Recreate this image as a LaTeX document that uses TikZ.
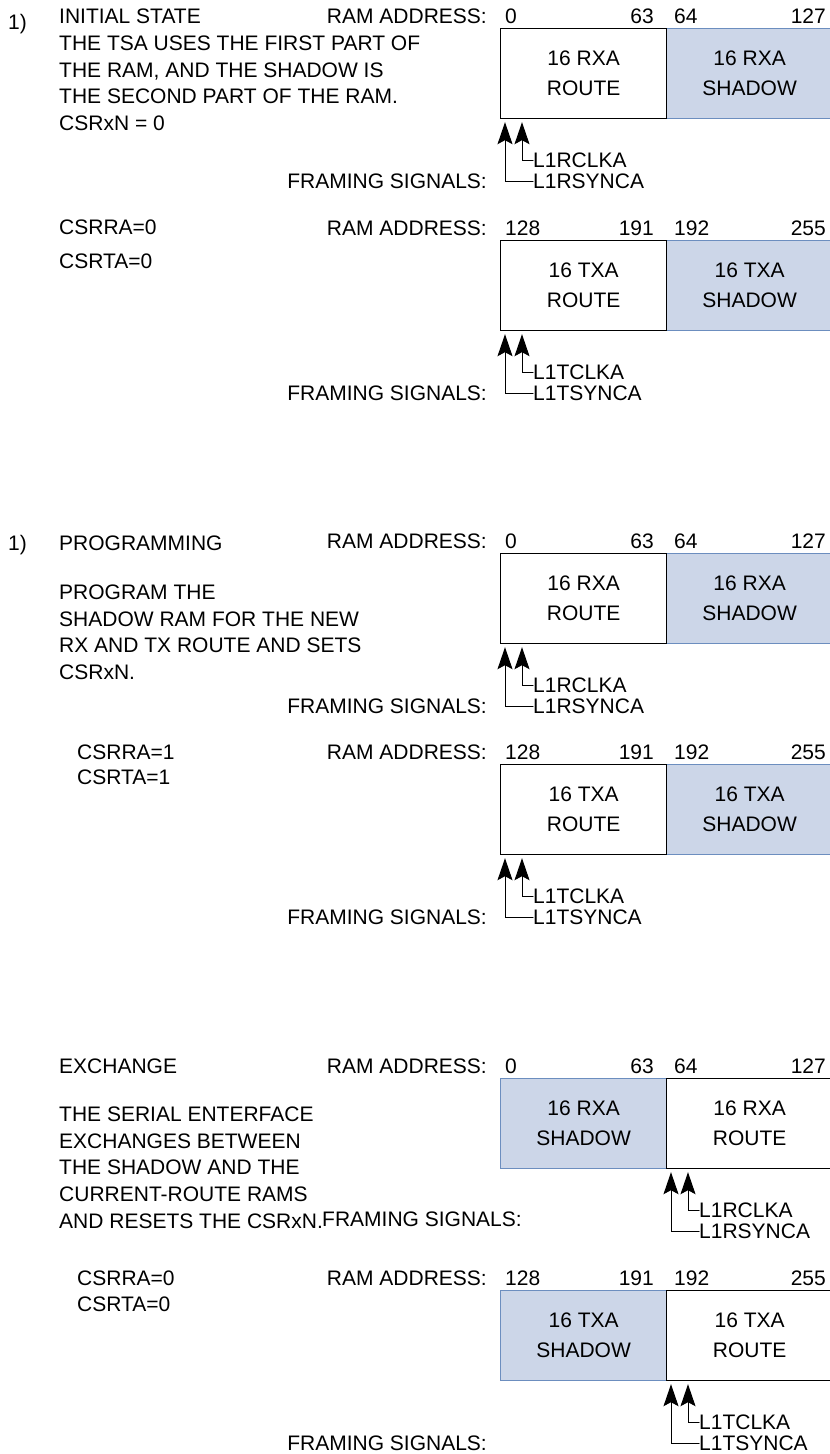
\documentclass[tikz,border=0pt]{standalone}
\usepackage{fontspec}
\setmainfont{Liberation Sans}
\usetikzlibrary{arrows.meta,positioning}
\definecolor{shadowfill}{HTML}{CCD6E8}
\definecolor{shadowline}{HTML}{6C8EBF}
\tikzset{txt/.style={inner sep=0pt,font=\fontsize{21}{26.7}\selectfont},routebox/.style={rectangle,draw=black,fill=white,line width=1.2pt,minimum width=166pt,minimum height=90pt,inner sep=0pt,align=center,font=\fontsize{21}{30}\selectfont},shadowbox/.style={routebox,draw=shadowline,fill=shadowfill},sig/.style={-{Stealth[length=22pt,width=15pt,inset=4pt]},line width=1pt},every picture/.style={line cap=round}}
\begin{document}
\begin{tikzpicture}[x=1pt,y=-1pt]
\useasboundingbox (0,0) rectangle (830,1454);
\foreach \k/\t/\ch/\sg/\pa/\pb/\pc/\pd/\rx/\hx in {1/28/RXA/R/0/63/64/127/500/666,2/240/TXA/T/128/191/192/255/500/666,3/553/RXA/R/0/63/64/127/500/666,4/764/TXA/T/128/191/192/255/500/666,5/1078/RXA/R/0/63/64/127/666/500,6/1290/TXA/T/128/191/192/255/666/500}{
\node[shadowbox,anchor=north west] (sh\k) at (\hx,\t) {16 \ch\\SHADOW};
\node[routebox,anchor=north west] (ro\k) at (\rx,\t) {16 \ch\\ROUTE};
\node[txt,anchor=east] (ram\k) at (487,\t-12) {RAM ADDRESS:};
\node[txt,anchor=west] (pa\k) at (505,\t-12) {\pa};
\node[txt,anchor=east] (pb\k) at (654,\t-12) {\pb};
\node[txt,anchor=west] (pc\k) at (674,\t-12) {\pc};
\node[txt,anchor=east] (pd\k) at (826,\t-12) {\pd};
\node[txt,anchor=west] (clk\k) at (\rx+33,\t+132) {L1\sg CLKA};
\node[txt,anchor=west] (syn\k) at (\rx+33,\t+153) {L1\sg SYNCA};
\draw[sig] (clk\k.west) -| ([xshift=22pt,yshift=-3pt]ro\k.south west);
\draw[sig] (syn\k.west) -| ([xshift=5pt,yshift=-3pt]ro\k.south west);
}
\foreach \k/\y in {1/181,2/393,3/706,4/917,6/1443}
\node[txt,anchor=east] (fr\k) at (487,\y) {FRAMING SIGNALS:};
\node[txt,anchor=west] (fr5) at (322,1219) {FRAMING SIGNALS:};
\node[txt,anchor=west] (num1) at (8,24) {1)};
\node[txt,anchor=west] (init) at (59,16) {INITIAL STATE};
\node[txt,anchor=north west,align=left] (par1) at (59,35.5) {THE TSA USES THE FIRST PART OF\\THE RAM, AND THE SHADOW IS\\THE SECOND PART OF THE RAM.\\CSRxN = 0};
\node[txt,anchor=west] (csrra1) at (59,227) {CSRRA=0};
\node[txt,anchor=west] (csrta1) at (59,261) {CSRTA=0};
\node[txt,anchor=west] (num2) at (8,545) {1)};
\node[txt,anchor=west] (prog) at (59,543) {PROGRAMMING};
\node[txt,anchor=north west,align=left] (par2) at (59,584.5) {PROGRAM THE\\SHADOW RAM FOR THE NEW\\RX AND TX ROUTE AND SETS\\CSRxN.};
\node[txt,anchor=west] (csrra2) at (77,752) {CSRRA=1};
\node[txt,anchor=west] (csrta2) at (77,777) {CSRTA=1};
\node[txt,anchor=west] (exch) at (59,1066) {EXCHANGE};
\node[txt,anchor=north west,align=left] (par3) at (59,1106.5) {THE SERIAL ENTERFACE\\EXCHANGES BETWEEN\\THE SHADOW AND THE\\CURRENT-ROUTE RAMS\\AND RESETS THE CSRxN.};
\node[txt,anchor=west] (csrra3) at (77,1278) {CSRRA=0};
\node[txt,anchor=west] (csrta3) at (77,1304) {CSRTA=0};
\end{tikzpicture}
\end{document}
